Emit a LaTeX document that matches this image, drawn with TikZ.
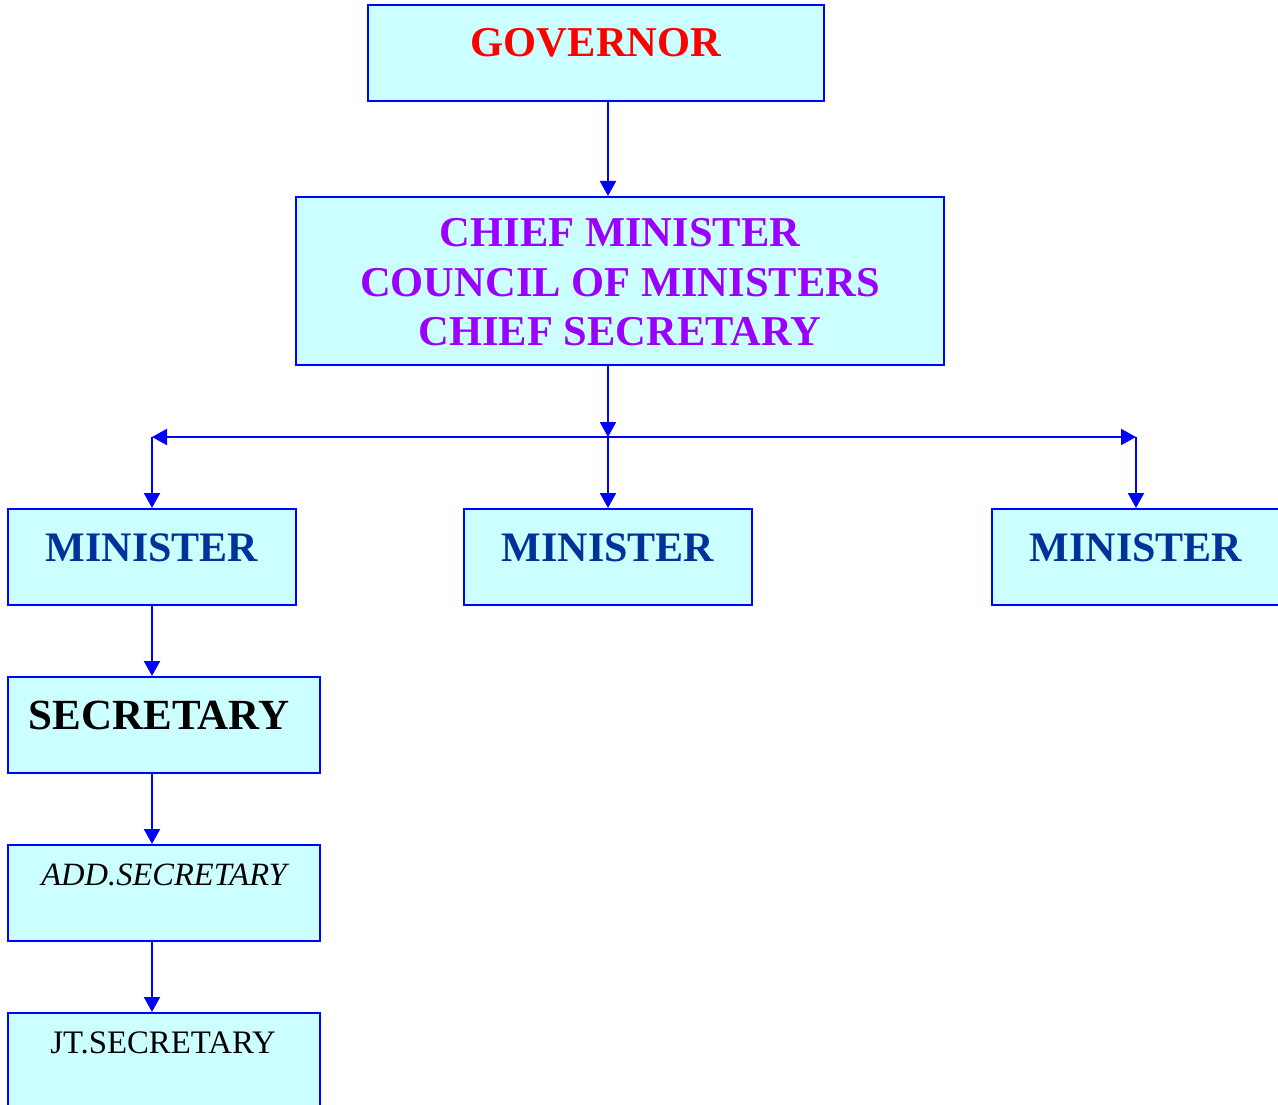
\documentclass[tikz,border=0pt]{standalone}
\usepackage{fontspec}
\setmainfont{Liberation Serif}
\usetikzlibrary{arrows.meta}
\definecolor{boxfill}{RGB}{204,255,255}
\definecolor{linkblue}{RGB}{0,0,255}
\definecolor{cmviolet}{RGB}{153,0,255}
\definecolor{minblue}{RGB}{0,51,153}
\begin{document}
\begin{tikzpicture}[x=1pt,y=-1pt,
  box/.style={draw=linkblue, fill=boxfill, line width=2pt, inner sep=0pt},
  link/.style={draw=linkblue, line width=2pt, -{Triangle[length=15pt,width=16pt]}},
  bigbold/.style={font=\bfseries\fontsize{42.5}{49}\selectfont},
  minfont/.style={font=\bfseries\fontsize{42}{49}\selectfont},
  lbl/.style={anchor=base, inner sep=0pt}]
\useasboundingbox (0,0) rectangle (1278,1105);

% boxes
\node[box, minimum width=456pt, minimum height=96pt] (gov) at (596,53) {};
\node[box, minimum width=648pt, minimum height=168pt] (cm) at (620,281) {};
\node[box, minimum width=288pt, minimum height=96pt] (m1) at (152,557) {};
\node[box, minimum width=288pt, minimum height=96pt] (m2) at (608,557) {};
\node[box, minimum width=288pt, minimum height=96pt] (m3) at (1136,557) {};
\node[box, minimum width=312pt, minimum height=96pt] (sec) at (164,725) {};
\node[box, minimum width=312pt, minimum height=96pt] (add) at (164,893) {};
\node[box, minimum width=312pt, minimum height=96pt] (jt) at (164,1061) {};

% texts
\node[lbl, bigbold, text=red] (govt) at (596,57) {GOVERNOR};
\node[lbl, bigbold, text=cmviolet] (cm1) at (620,247) {CHIEF MINISTER};
\node[lbl, bigbold, text=cmviolet] (cm2) at (620,296) {COUNCIL OF MINISTERS};
\node[lbl, bigbold, text=cmviolet] (cm3) at (620,345) {CHIEF SECRETARY};
\node[lbl, minfont, text=minblue] (m1t) at (152,561) {MINISTER};
\node[lbl, minfont, text=minblue] (m2t) at (608,561) {MINISTER};
\node[lbl, minfont, text=minblue] (m3t) at (1136,561) {MINISTER};
\node[lbl, font=\bfseries\fontsize{43}{49}\selectfont, text=black] (sect) at (159,729) {SECRETARY};
\node[lbl, font=\itshape\fontsize{32.5}{36}\selectfont] (addt) at (164,885) {ADD.SECRETARY};
\node[lbl, font=\fontsize{32.8}{36}\selectfont] (jtt) at (163,1053) {JT.SECRETARY};

% connectors
\coordinate (j) at (608,437);
\draw[link] (gov.south -| m2.north) -- (cm.north -| m2.north);
\draw[link] (cm.south -| j) -- (j);
\draw[link] (j) -- (j -| m1.north);
\draw[link] (j) -- (j -| m3.north);
\draw[link] (j -| m1.north) -- (m1.north);
\draw[link] (j) -- (m2.north);
\draw[link] (j -| m3.north) -- (m3.north);
\draw[link] (m1.south) -- (m1.south |- sec.north);
\draw[link] (sec.south -| m1.south) -- (add.north -| m1.south);
\draw[link] (add.south -| m1.south) -- (jt.north -| m1.south);
\end{tikzpicture}
\end{document}
